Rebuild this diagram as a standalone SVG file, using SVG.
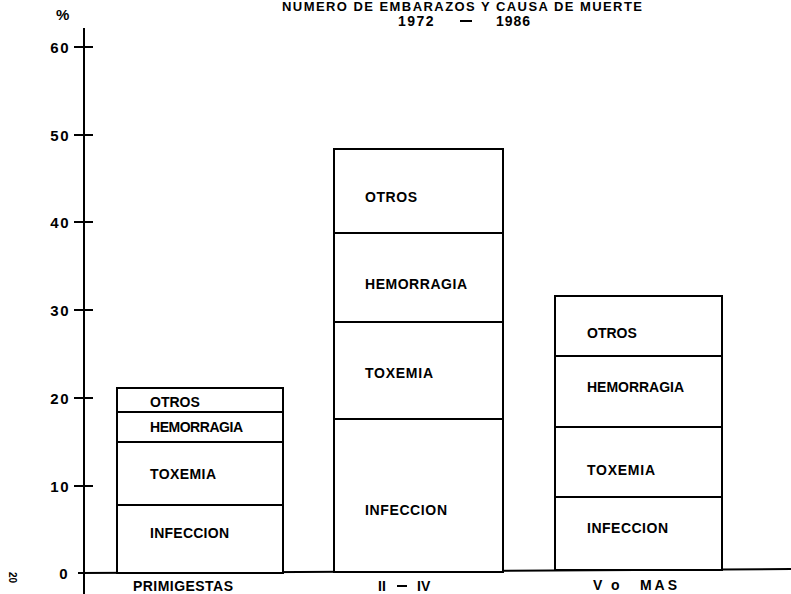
<svg xmlns="http://www.w3.org/2000/svg" width="791" height="594" viewBox="0 0 791 594">
<style>
text{font-family:"Liberation Sans",Arial,sans-serif;font-weight:bold;fill:#000}
.lbl{font-size:14px}
.ax{font-size:15px;letter-spacing:1.5px}
.ln{stroke:#000;stroke-width:2;fill:none}
.bar{stroke:#000;stroke-width:2;fill:#fff}
</style>
<rect width="791" height="594" fill="#fff"/>
<g id="title">
<text x="282" y="11" font-size="13" textLength="360" lengthAdjust="spacing">NUMERO DE EMBARAZOS Y CAUSA DE MUERTE</text>
<text x="398" y="26" font-size="14" letter-spacing="1.5">1972</text>
<line x1="460" y1="21" x2="472" y2="21" class="ln"/>
<text x="496" y="26" font-size="14" letter-spacing="1">1986</text>
</g>
<g id="axes">
<text x="56" y="20" font-size="15">%</text>
<line x1="84" y1="28" x2="84" y2="594" class="ln"/>
<polyline points="78,573 300,572 791,569" class="ln"/>
<g class="ln">
<line x1="74" y1="47" x2="93" y2="47"/>
<line x1="74" y1="135" x2="93" y2="135"/>
<line x1="74" y1="222" x2="93" y2="222"/>
<line x1="74" y1="310" x2="93" y2="310"/>
<line x1="74" y1="398" x2="93" y2="398"/>
<line x1="74" y1="486" x2="93" y2="486"/>
</g>
<g class="ax" text-anchor="end">
<text x="70" y="53">60</text>
<text x="70" y="141">50</text>
<text x="70" y="228">40</text>
<text x="70" y="316">30</text>
<text x="70" y="404">20</text>
<text x="70" y="492">10</text>
<text x="69" y="579">0</text>
</g>
<text transform="translate(9,572) rotate(90)" font-size="10">20</text>
</g>
<g id="bar-primigestas">
<rect x="117" y="388" width="166" height="185" class="bar"/>
<line x1="117" y1="412" x2="283" y2="412" class="ln"/>
<line x1="117" y1="442" x2="283" y2="442" class="ln"/>
<line x1="117" y1="505" x2="283" y2="505" class="ln"/>
<text x="150" y="407" class="lbl">OTROS</text>
<text x="150" y="432" class="lbl" textLength="93" lengthAdjust="spacing">HEMORRAGIA</text>
<text x="150" y="479" class="lbl" textLength="66" lengthAdjust="spacing">TOXEMIA</text>
<text x="150" y="538" class="lbl" textLength="79" lengthAdjust="spacing">INFECCION</text>
<text x="133" y="591" class="lbl" textLength="100" lengthAdjust="spacing">PRIMIGESTAS</text>
</g>
<g id="bar-ii-iv">
<rect x="334" y="149" width="169" height="423" class="bar"/>
<line x1="334" y1="233" x2="503" y2="233" class="ln"/>
<line x1="334" y1="322" x2="503" y2="322" class="ln"/>
<line x1="334" y1="419" x2="503" y2="419" class="ln"/>
<text x="365" y="202" class="lbl" textLength="52" lengthAdjust="spacing">OTROS</text>
<text x="365" y="289" class="lbl" textLength="102" lengthAdjust="spacing">HEMORRAGIA</text>
<text x="365" y="378" class="lbl" textLength="68" lengthAdjust="spacing">TOXEMIA</text>
<text x="365" y="515" class="lbl" textLength="82" lengthAdjust="spacing">INFECCION</text>
<text x="378" y="591" class="lbl">II</text>
<line x1="397" y1="586" x2="407" y2="586" class="ln"/>
<text x="417" y="591" class="lbl">IV</text>
</g>
<g id="bar-v-o-mas">
<rect x="555" y="296" width="167" height="274" class="bar"/>
<line x1="555" y1="356" x2="722" y2="356" class="ln"/>
<line x1="555" y1="427" x2="722" y2="427" class="ln"/>
<line x1="555" y1="497" x2="722" y2="497" class="ln"/>
<text x="587" y="338" class="lbl">OTROS</text>
<text x="587" y="392" class="lbl" textLength="97" lengthAdjust="spacing">HEMORRAGIA</text>
<text x="587" y="475" class="lbl" textLength="68" lengthAdjust="spacing">TOXEMIA</text>
<text x="587" y="533" class="lbl" textLength="81" lengthAdjust="spacing">INFECCION</text>
<text x="593" y="590" class="lbl">V</text>
<text x="611" y="590" class="lbl">o</text>
<text x="640" y="590" class="lbl" textLength="37" lengthAdjust="spacing">MAS</text>
</g>
</svg>
